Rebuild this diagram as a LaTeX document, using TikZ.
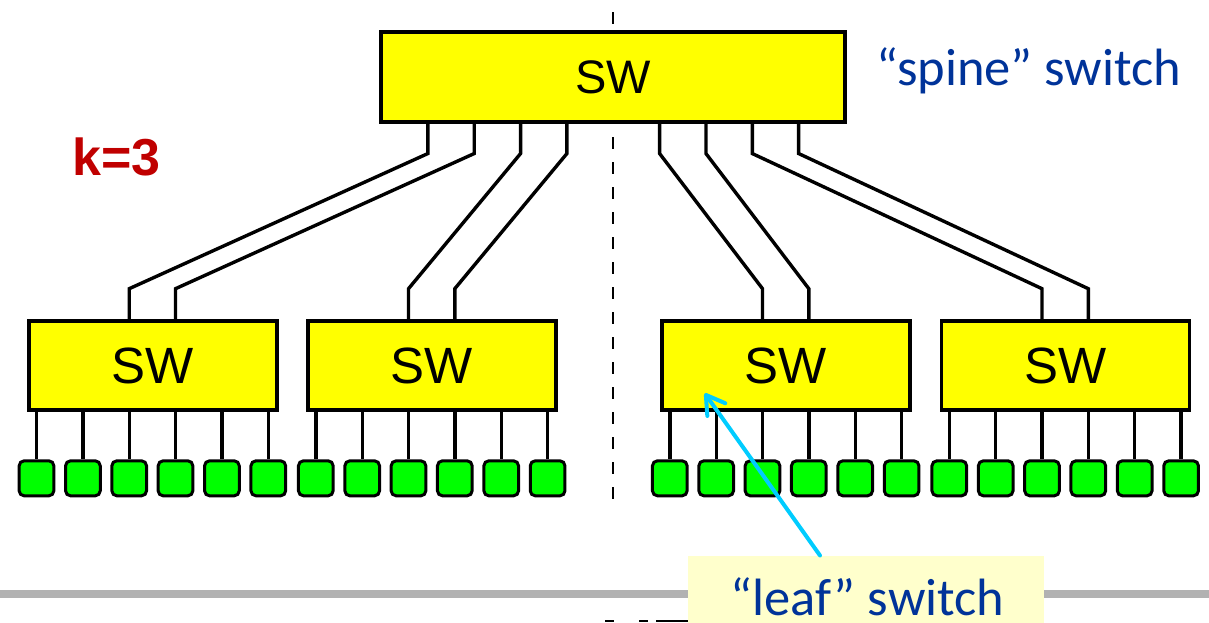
\documentclass[tikz,border=0pt]{standalone}
\usepackage{fontspec}
\usetikzlibrary{calc,arrows.meta}
\newfontfamily\swfont{Liberation Sans}
\newfontfamily\calfont{Carlito}
\definecolor{swyellow}{RGB}{255,255,0}
\definecolor{hostgreen}{RGB}{0,255,0}
\definecolor{lblblue}{RGB}{0,51,153}
\definecolor{kred}{RGB}{192,0,0}
\definecolor{arrowcyan}{RGB}{0,204,255}
\definecolor{notebg}{RGB}{255,255,204}
\definecolor{rulegray}{RGB}{178,178,178}
\begin{document}
\begin{tikzpicture}[x=1pt,y=-1pt,
  swbox/.style={draw=black, line width=3.6pt, fill=swyellow, inner sep=0pt},
  hostbox/.style={draw=black, line width=3pt, fill=hostgreen, rounded corners=5pt,
    minimum width=34.7pt, minimum height=35pt, inner sep=0pt},
  wire/.style={draw=black, line width=3.4pt},
  divider/.style={draw=black, line width=2.2pt, dash pattern=on 12pt off 13pt},
  bluelabel/.style={anchor=base west, inner sep=0pt, text=lblblue,
    font=\calfont\fontsize{52.5}{52.5}\selectfont},
  pointer/.style={draw=arrowcyan, line width=4pt, line cap=round,
    -{Straight Barb[length=18pt,width=22pt,round]}}
]
\useasboundingbox (0,0) rectangle (1209,622);

% dashed divider
\coordinate (dtop) at (613.3,12);
\coordinate (dbot) at (613.3,499);
\draw[divider] (dtop) -- (dbot);

% spine switch
\node[swbox, minimum width=464pt, minimum height=90.5pt,
  font=\swfont\fontsize{47}{47}\selectfont] (sp) at (613.25,77) {SW};

% leaf switches and hosts
\foreach \i/\cx in {1/152.7, 2/432, 3/786, 4/1065.5} {
  \node[swbox, minimum width=248pt, minimum height=89pt,
    font=\swfont\fontsize{51}{51}\selectfont] (l\i) at (\cx,365.5) {SW};
  \foreach \j/\dx in {1/-116.2, 2/-69.8, 3/-23.5, 4/22.8, 5/69.2, 6/115.6} {
    \node[hostbox] (h\i\j) at ($(l\i.south)+(\dx,66.5)$) {};
    \draw[wire] ($(l\i.south)+(\dx,0)$) -- (h\i\j.north);
  }
}

% spine to leaf wires
\foreach \dx/\l/\ux in {-185.4/1/-23.5, -139.05/1/22.8, -92.7/2/-23.5, -46.35/2/22.8,
                         46.35/3/-23.5, 92.7/3/22.8, 139.05/4/-23.5, 185.4/4/22.8} {
  \draw[wire] ($(sp.south)+(\dx,0)$) -- ++(0,29.5) -- ($(l\l.north)+(\ux,-30.5)$) -- ($(l\l.north)+(\ux,0)$);
}

% labels
\node[bluelabel] (spinelbl) at (876,85) {“spine” switch};
\node[anchor=base west, inner sep=0pt, text=kred,
  font=\swfont\bfseries\fontsize{52}{52}\selectfont] (klbl) at (72,175) {k=3};

% bottom rule and partial text fragments
\draw[rulegray, line width=8.5pt] (0,594) -- (1209,594);
\fill[black] (605,620) rectangle (614.3,622);
\fill[black] (639,620) rectangle (648.3,622);
\fill[black] (656,620) rectangle (690,622);

% leaf note
\node[fill=notebg, inner sep=0pt, minimum width=356pt, minimum height=67pt,
  anchor=north west] (lnote) at (688,555.5) {};
\node[bluelabel] (leaflbl) at (730,615) {“leaf” switch};

% pointer arrow
\draw[pointer] ($(lnote.north west)+(132,0)$) -- ($(l3.south west)+(44.5,-18.5)$);
\end{tikzpicture}
\end{document}
